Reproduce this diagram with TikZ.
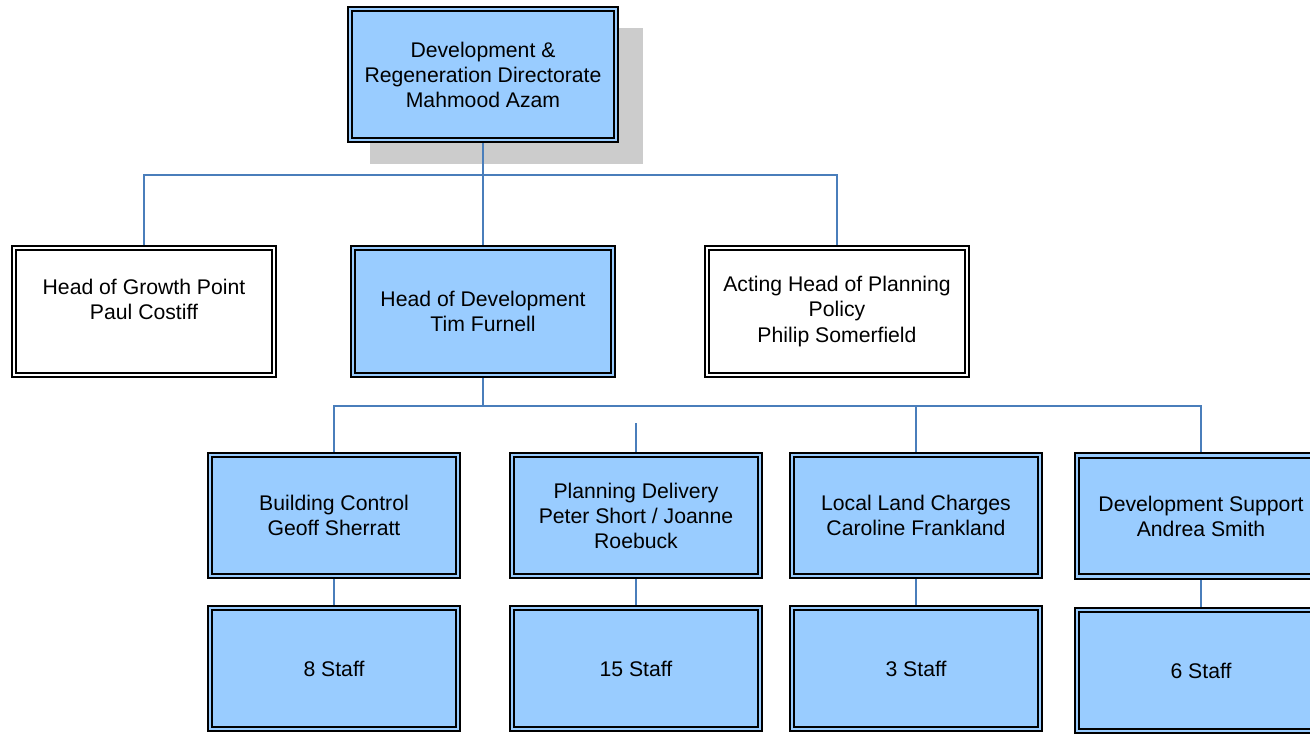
\documentclass[tikz,border=0pt]{standalone}
\usepackage{fontspec}
\setmainfont{Liberation Sans}
\usetikzlibrary{backgrounds}
\definecolor{boxblue}{HTML}{99CCFF}
\definecolor{linkblue}{HTML}{4A7EBB}
\definecolor{shadowgray}{HTML}{CCCCCC}
\tikzset{
  orgbox/.style={rectangle, draw=black, line width=1.2pt, double=#1, double distance=2.2pt,
    fill=#1, inner sep=0pt, outer sep=0pt, align=center,
    font=\fontsize{15.9}{18.8}\selectfont},
  topsize/.style={minimum width=199.5pt, minimum height=98.25pt},
  midsize/.style={minimum width=195pt, minimum height=95.25pt},
  lowsize/.style={minimum width=186pt, minimum height=90.75pt},
  conn/.style={draw=linkblue, line width=1.4pt},
}
\begin{document}
\begin{tikzpicture}[x=0.75pt, y=-0.75pt]
\clip (0,0) rectangle (1310,733);
% nodes
\node[orgbox=boxblue, topsize] (top) at (483,74.5) {Development \&\\Regeneration Directorate\\Mahmood Azam};
\node[orgbox=white, midsize] (gp) at (144,311.5) {Head of Growth Point\\Paul Costiff\\\mbox{}};
\node[orgbox=boxblue, midsize] (hod) at (483,311.5) {Head of Development\\Tim Furnell};
\node[orgbox=white, midsize] (ah) at (837,311.5) {Acting Head of Planning\\Policy\\Philip Somerfield};
\node[orgbox=boxblue, lowsize] (bc) at (334,515.5) {Building Control\\Geoff Sherratt};
\node[orgbox=boxblue, lowsize] (pd) at (636,515.5) {Planning Delivery\\Peter Short / Joanne\\Roebuck};
\node[orgbox=boxblue, lowsize] (llc) at (916,515.5) {Local Land Charges\\Caroline Frankland};
\node[orgbox=boxblue, lowsize] (ds) at (1201,516) {Development Support\\Andrea Smith};
\node[orgbox=boxblue, lowsize] (s8) at (334,668.5) {8 Staff};
\node[orgbox=boxblue, lowsize] (s15) at (636,668.5) {15 Staff};
\node[orgbox=boxblue, lowsize] (s3) at (916,668.5) {3 Staff};
\node[orgbox=boxblue, lowsize] (s6) at (1201,670.5) {6 Staff};
\coordinate (bus1) at (483,175);
\coordinate (bus2) at (483,406);
\coordinate (pdstub) at (636,423);
\begin{scope}[on background layer]
  \fill[white] (0,0) rectangle (1310,733);
  \fill[shadowgray] (370,28) rectangle (643,164);
  \draw[conn] (top.south) -- (hod.north);
  \draw[conn] (gp.north) |- (bus1) -| (ah.north);
  \draw[conn] (hod.south) -- (bus2);
  \draw[conn] (bc.north) |- (bus2) -| (ds.north);
  \draw[conn] (llc.north) -- (llc.north |- bus2);
  \draw[conn] (pdstub) -- (pd.north);
  \draw[conn] (bc.south) -- (s8.north);
  \draw[conn] (pd.south) -- (s15.north);
  \draw[conn] (llc.south) -- (s3.north);
  \draw[conn] (ds.south) -- (s6.north);
\end{scope}
\end{tikzpicture}
\end{document}
